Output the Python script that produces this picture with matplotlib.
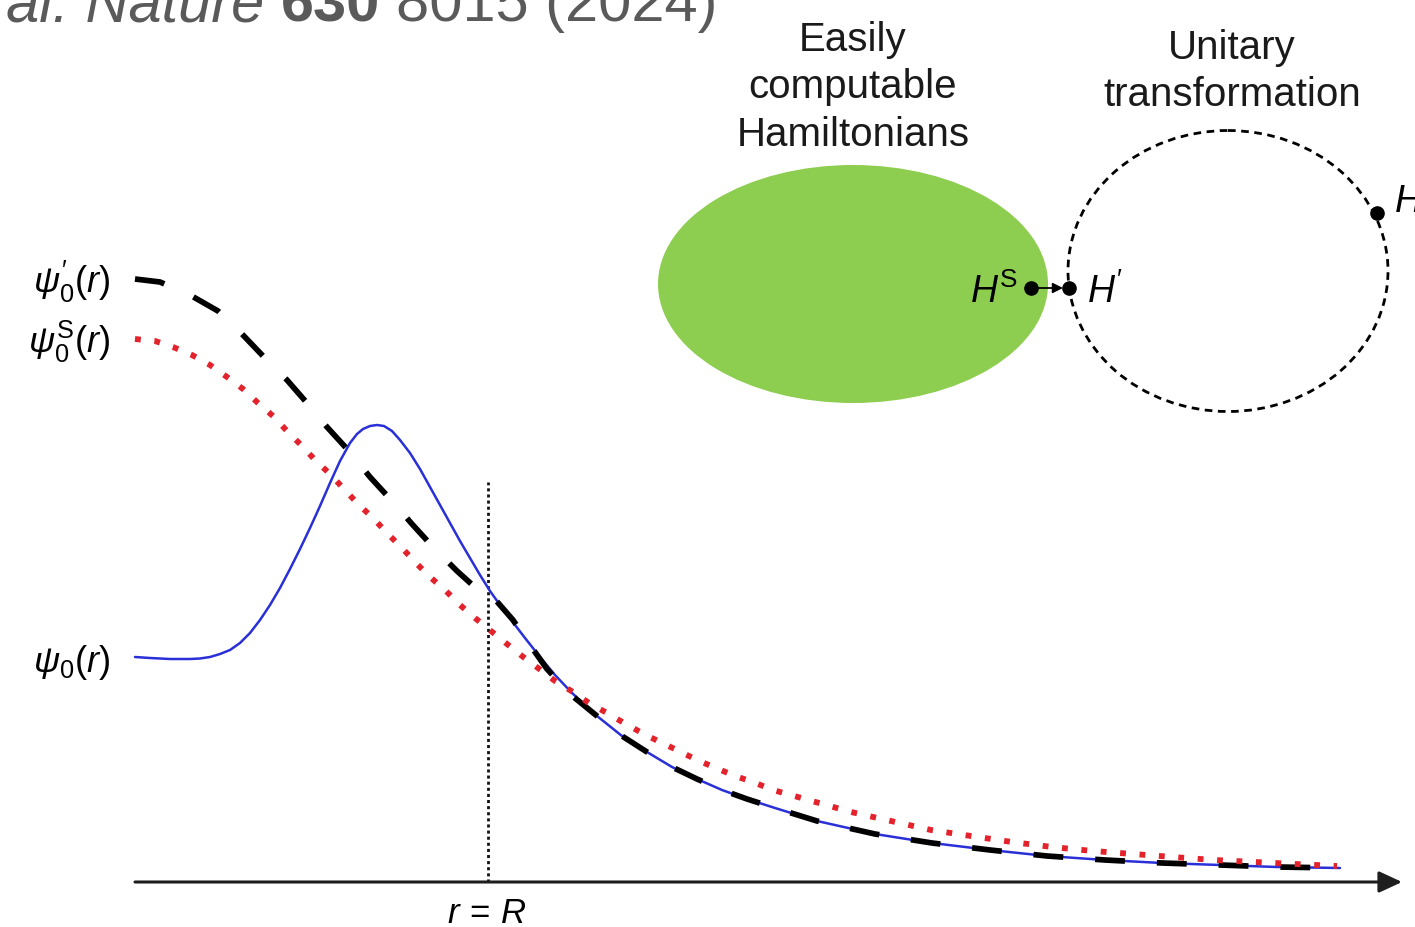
import matplotlib
matplotlib.use("Agg")
import matplotlib.pyplot as plt
from matplotlib.patches import Ellipse, FancyArrowPatch

plt.rcParams['font.family'] = ['Liberation Sans', 'DejaVu Sans']
plt.rcParams['mathtext.fontset'] = 'custom'
plt.rcParams['mathtext.rm'] = 'Liberation Sans'
plt.rcParams['mathtext.it'] = 'Liberation Sans:italic'
plt.rcParams['mathtext.bf'] = 'Liberation Sans:bold'
plt.rcParams['mathtext.sf'] = 'Liberation Sans'
plt.rcParams['lines.scale_dashes'] = False

# ---------------------------------------------------------------- data
# radial coordinate r and wavefunction amplitudes (schematic units)
R_BOUNDARY = 3.53

r_prime = [0.00, 0.25, 0.55, 0.83, 1.07, 1.28, 1.52, 1.72, 1.92, 2.13, 2.35,
           2.57, 2.77, 2.98, 3.22, 3.43, 3.58, 3.78, 3.95, 4.12, 4.35, 4.62,
           4.87, 5.12, 5.37, 5.62, 5.87, 6.12, 6.40, 6.82, 7.40, 7.97, 8.55,
           9.12, 9.70, 10.27, 10.85, 11.42, 12.05]
psi_prime = [6.03, 6.00, 5.87, 5.71, 5.48, 5.26, 5.02, 4.79, 4.55, 4.32, 4.05,
             3.81, 3.58, 3.35, 3.11, 2.92, 2.85, 2.62, 2.37, 2.13, 1.88, 1.66,
             1.46, 1.30, 1.15, 1.03, 0.92, 0.83, 0.74, 0.61, 0.48, 0.39, 0.32,
             0.26, 0.22, 0.19, 0.17, 0.15, 0.14]

r_true = [0.00, 0.15, 0.35, 0.55, 0.65, 0.75, 0.85, 0.95, 1.05, 1.15, 1.25,
          1.35, 1.45, 1.55, 1.65, 1.75, 1.85, 1.95, 2.05, 2.15, 2.22, 2.28,
          2.35, 2.42, 2.49, 2.57, 2.65, 2.75, 2.85, 2.95, 3.05, 3.15, 3.25,
          3.35, 3.45, 3.55, 3.65, 3.77, 3.90, 4.05, 4.20, 4.37, 4.62, 4.87,
          5.12, 5.37, 5.62, 5.87, 6.12, 6.40, 6.82, 7.40, 7.97, 8.55, 9.12,
          9.70, 10.27, 10.85, 11.42, 12.05]
psi_true = [2.25, 2.24, 2.23, 2.23, 2.235, 2.25, 2.28, 2.32, 2.39, 2.49, 2.62,
            2.77, 2.94, 3.13, 3.33, 3.54, 3.76, 3.99, 4.21, 4.39, 4.48, 4.53,
            4.56, 4.57, 4.56, 4.51, 4.42, 4.29, 4.13, 3.95, 3.77, 3.59, 3.41,
            3.24, 3.07, 2.91, 2.77, 2.61, 2.44, 2.25, 2.07, 1.89, 1.66, 1.46,
            1.30, 1.15, 1.03, 0.92, 0.83, 0.74, 0.61, 0.48, 0.39, 0.32, 0.26,
            0.22, 0.19, 0.17, 0.15, 0.14]

r_simple = [0.00, 0.20, 0.38, 0.57, 0.75, 0.92, 1.08, 1.23, 1.38, 1.52, 1.67,
            1.81, 1.95, 2.09, 2.23, 2.38, 2.52, 2.67, 2.81, 2.95, 3.10, 3.25,
            3.40, 3.56, 3.72, 3.87, 4.03, 4.20, 4.38, 4.54, 4.72, 4.89, 5.07,
            5.25, 5.44, 5.62, 5.81, 6.00, 6.18, 6.38, 6.77, 7.16, 7.56, 7.96,
            8.36, 8.77, 9.17, 9.58, 9.98, 10.38, 10.79, 11.20, 11.60, 12.02]
psi_simple = [5.43, 5.41, 5.35, 5.27, 5.17, 5.05, 4.93, 4.79, 4.66, 4.51, 4.36,
              4.21, 4.08, 3.93, 3.78, 3.64, 3.49, 3.34, 3.19, 3.05, 2.92, 2.77,
              2.64, 2.51, 2.38, 2.26, 2.14, 2.01, 1.90, 1.79, 1.69, 1.59, 1.49,
              1.40, 1.31, 1.22, 1.14, 1.06, 1.00, 0.92, 0.81, 0.70, 0.61, 0.52,
              0.46, 0.40, 0.35, 0.31, 0.28, 0.25, 0.22, 0.20, 0.18, 0.16]

curve_labels = [r"$\psi_0'(r)$", r"$\psi_0^{\mathrm{S}}(r)$", r"$\psi_0(r)$"]

# ---------------------------------------------------------------- figure
W, H, DPI = 1415, 928, 100
fig = plt.figure(figsize=(W / DPI, H / DPI), dpi=DPI)
fig.patch.set_facecolor('white')

# axes for the radial curves
ax = fig.add_axes([0, 0, 1, 1])
ax.set_xlim(-1.35, 12.80)
ax.set_ylim(-0.45, 8.83)
ax.axis('off')

# overlay in pixel space for the Hamiltonian sketch and labels
ov = fig.add_axes([0, 0, 1, 1], facecolor='none')
ov.set_xlim(0, W)
ov.set_ylim(H, 0)
ov.axis('off')

BLUE = '#2a30d8'
RED = '#e3222b'
GREEN = '#8dcd4f'
GREY = '#5a5a5a'

ax.plot(r_true, psi_true, color=BLUE, lw=1.8, zorder=3,
        solid_capstyle='round', solid_joinstyle='round')
ax.plot(r_prime, psi_prime, color='black', lw=4.1, dashes=(21.5, 23.0),
        dash_capstyle='butt', zorder=4)
ax.plot(r_simple, psi_simple, color=RED, lw=4.2, dashes=(4.2, 9.8),
        dash_capstyle='butt', zorder=5)

# r = R marker
ax.plot([R_BOUNDARY, R_BOUNDARY], [0, 4.00], color='#111111', lw=2.0,
        dashes=(2.2, 2.2), zorder=2)

# r axis
ax.add_patch(FancyArrowPatch((0, 0), (12.67, 0),
                             arrowstyle='-|>,head_length=14,head_width=6.5',
                             mutation_scale=1, lw=2.2, color='#1e1e1e',
                             shrinkA=0, shrinkB=0, zorder=6))

# curve labels
label_fs = 26
ov.text(110, 293, curve_labels[0], ha='right', va='baseline', fontsize=label_fs)
ov.text(110, 353, curve_labels[1], ha='right', va='baseline', fontsize=label_fs)
ov.text(110, 672, curve_labels[2], ha='right', va='baseline', fontsize=label_fs)
ov.text(487, 923, r"$r\,=\,R$", ha='center', va='baseline', fontsize=25)

# Hamiltonian space sketch
ov.add_patch(Ellipse((853, 285), 390, 238, facecolor=GREEN, edgecolor='none', zorder=1))
ov.add_patch(Ellipse((1228, 272), 320, 281, fill=False, edgecolor='black',
                     lw=2.0, linestyle=(0, (5.5, 4.0)), zorder=2))
ov.plot([1031, 1069, 1377], [289, 289, 214], 'o', color='black', ms=9.5, zorder=4)
ov.add_patch(FancyArrowPatch((1036, 289), (1063, 289),
                             arrowstyle='-|>,head_length=6,head_width=3',
                             mutation_scale=1, lw=1.3, color='black',
                             shrinkA=0, shrinkB=0, zorder=3))
ov.text(1018, 303, r"$H^{\mathrm{S}}$", ha='right', va='baseline', fontsize=27)
ov.text(1087, 303, r"$H'$", ha='left', va='baseline', fontsize=27)
ov.text(1394, 212, r"$H$", ha='left', va='baseline', fontsize=27)

head_fs = 29
for txt, y in [("Easily", 51), ("computable", 98), ("Hamiltonians", 146)]:
    ov.text(853, y, txt, ha='center', va='baseline', fontsize=head_fs, color='#1a1a1a')
for txt, y in [("Unitary", 59), ("transformation", 106)]:
    ov.text(1232, y, txt, ha='center', va='baseline', fontsize=head_fs, color='#1a1a1a')

# citation line along the top edge
cite_fs = 42.8
space = 0.278 * cite_fs * DPI / 72
renderer = fig.canvas.get_renderer()
t3 = ov.text(718, 21, "8015 (2024)", ha='right', va='baseline',
             fontsize=cite_fs, color=GREY)
x_next = t3.get_window_extent(renderer).x0 - space
t2 = ov.text(x_next, 21, "630", ha='right', va='baseline',
             fontsize=cite_fs, color=GREY, fontweight='bold')
x_next = t2.get_window_extent(renderer).x0 - space
ov.text(x_next, 21, "et al. Nature", ha='right', va='baseline',
        fontsize=cite_fs, color=GREY, fontstyle='italic')

fig.savefig('out.png', dpi=DPI, facecolor='white')
